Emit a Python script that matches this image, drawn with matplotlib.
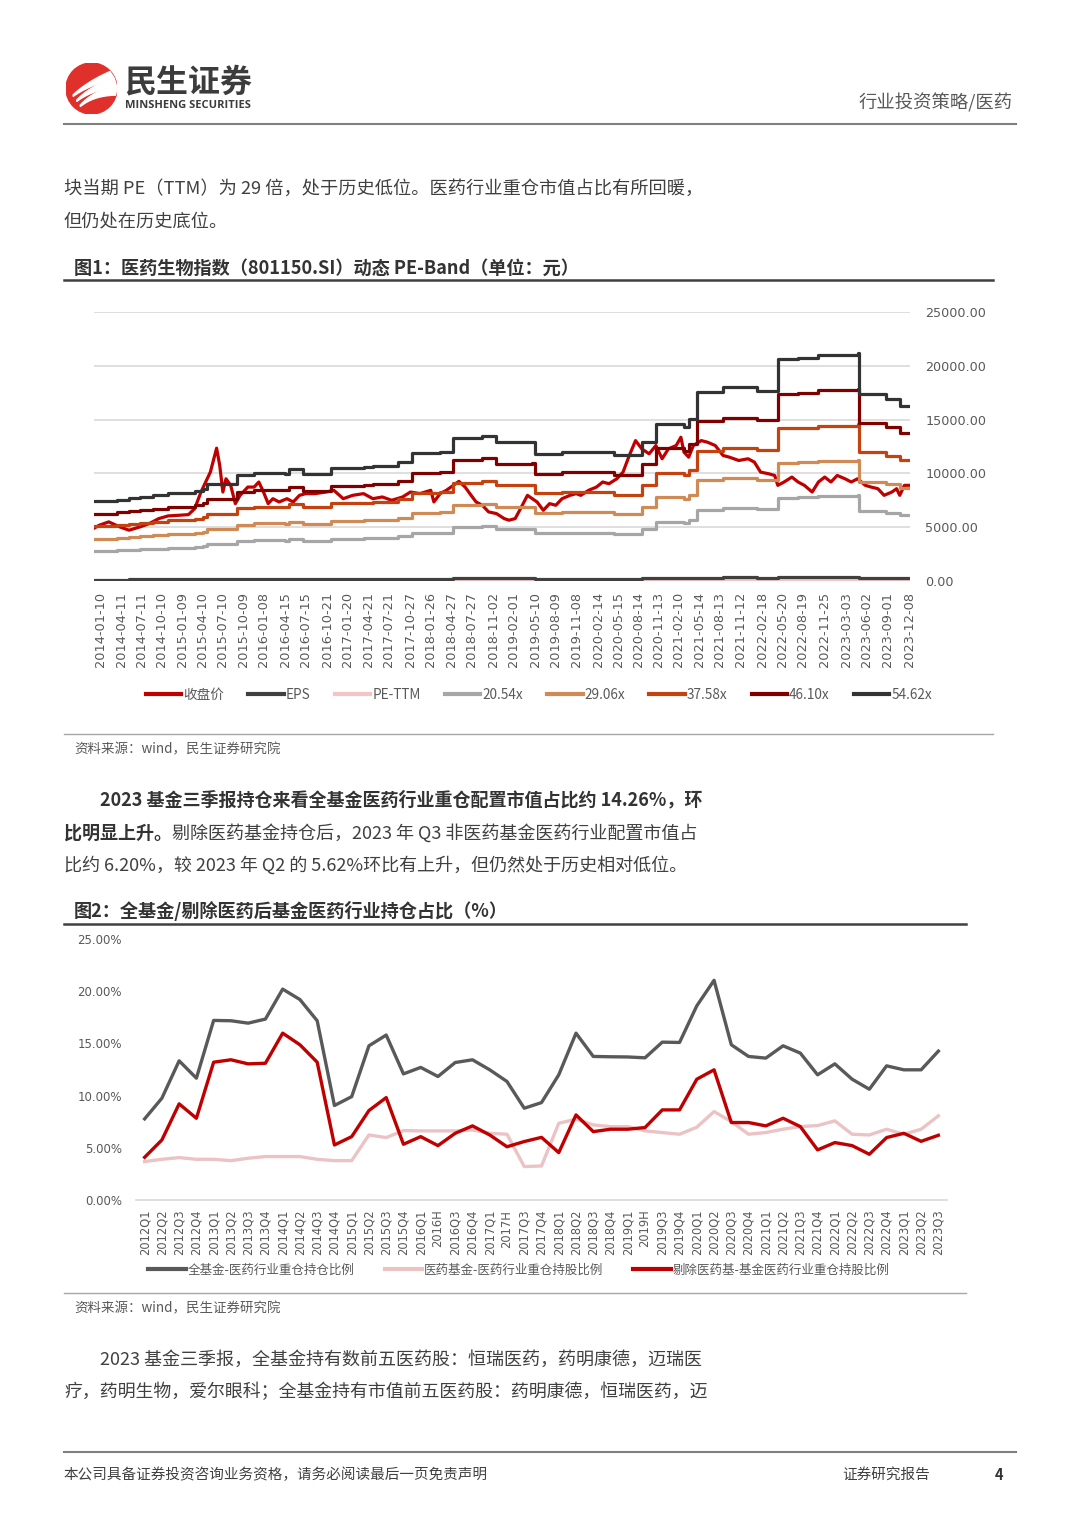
import numpy as np
import pandas as pd
import matplotlib
matplotlib.use("Agg")
import matplotlib.pyplot as plt
from matplotlib import lines, patches
from matplotlib.ticker import FormatStrFormatter

plt.rcParams['font.family'] = ['Noto Sans CJK SC', 'DejaVu Sans']

W, H = 1080, 1527

# ---------- chart 1: PE band data ----------
pe_ticks = ['2014-01-10', '2014-04-11', '2014-07-11', '2014-10-10', '2015-01-09', '2015-04-10',
            '2015-07-10', '2015-10-09', '2016-01-08', '2016-04-15', '2016-07-15', '2016-10-21',
            '2017-01-20', '2017-04-21', '2017-07-21', '2017-10-27', '2018-01-26', '2018-04-27',
            '2018-07-27', '2018-11-02', '2019-02-01', '2019-05-10', '2019-08-09', '2019-11-08',
            '2020-02-14', '2020-05-15', '2020-08-14', '2020-11-13', '2021-02-10', '2021-05-14',
            '2021-08-13', '2021-11-12', '2022-02-18', '2022-05-20', '2022-08-19', '2022-11-25',
            '2023-03-03', '2023-06-02', '2023-09-01', '2023-12-08']

eps_dates = ['2013-12-13', '2014-03-21', '2014-05-16', '2014-07-04', '2014-08-29', '2014-11-07',
             '2015-03-06', '2015-04-10', '2015-05-01', '2015-09-11', '2015-11-27', '2016-04-15',
             '2016-04-29', '2016-07-01', '2016-11-04', '2017-03-31', '2017-05-12', '2017-09-01',
             '2017-11-03', '2018-03-09', '2018-05-04', '2018-09-14', '2018-11-16', '2019-04-26',
             '2019-05-10', '2019-09-06', '2020-04-24', '2020-08-28', '2020-10-30', '2021-03-05',
             '2021-03-26', '2021-04-30', '2021-08-27', '2022-01-28', '2022-04-29', '2022-07-29',
             '2022-10-28', '2023-04-21', '2023-04-28', '2023-08-25', '2023-10-27', '2023-12-08']
eps_values = [135.5, 138.4, 141.0, 143.0, 145.7, 149.8, 153.1, 157.1, 165.5, 179.6, 184.2, 182.5,
              189.9, 182.2, 192.1, 193.9, 195.0, 202.3, 217.9, 219.2, 243.0, 247.5, 236.2, 237.3,
              216.4, 219.2, 213.7, 236.2, 267.3, 261.8, 275.7, 322.0, 329.5, 324.1, 377.5, 379.0,
              384.5, 387.6, 318.1, 309.6, 298.4, 298.4]

close_dates = ['2013-12-13', '2014-01-03', '2014-02-14', '2014-04-04', '2014-05-16', '2014-07-04',
               '2014-08-15', '2014-09-26', '2014-11-07', '2014-12-26', '2015-02-06', '2015-03-06',
               '2015-04-03', '2015-04-24', '2015-05-15', '2015-06-12', '2015-06-26', '2015-07-10',
               '2015-07-24', '2015-08-14', '2015-09-04', '2015-09-25', '2015-10-30', '2015-11-27',
               '2015-12-18', '2016-01-08', '2016-01-29', '2016-02-19', '2016-03-18', '2016-04-22',
               '2016-05-20', '2016-06-17', '2016-07-15', '2016-08-26', '2016-10-14', '2016-11-18',
               '2016-12-30', '2017-02-10', '2017-03-31', '2017-05-12', '2017-06-23', '2017-08-04',
               '2017-09-22', '2017-10-27', '2017-12-08', '2018-01-26', '2018-02-09', '2018-03-09',
               '2018-04-06', '2018-06-01', '2018-06-29', '2018-07-20', '2018-08-17', '2018-09-14',
               '2018-10-12', '2018-11-16', '2018-12-21', '2019-01-11', '2019-02-08', '2019-03-08',
               '2019-04-04', '2019-05-17', '2019-06-14', '2019-07-12', '2019-08-09', '2019-09-06',
               '2019-10-11', '2019-11-08', '2019-11-29', '2020-01-03', '2020-02-07', '2020-03-06',
               '2020-04-03', '2020-05-08', '2020-06-05', '2020-07-03', '2020-07-31', '2020-08-28',
               '2020-09-30', '2020-10-30', '2020-11-27', '2020-12-25', '2021-01-29', '2021-02-19',
               '2021-03-05', '2021-03-26', '2021-04-16', '2021-05-21', '2021-06-18', '2021-07-23',
               '2021-08-27', '2021-09-24', '2021-11-05', '2021-12-17', '2022-01-14', '2022-02-11',
               '2022-03-18', '2022-04-15', '2022-04-29', '2022-05-27', '2022-07-01', '2022-07-29',
               '2022-08-26', '2022-09-30', '2022-10-28', '2022-11-25', '2022-12-23', '2023-01-20',
               '2023-02-24', '2023-03-24', '2023-04-21', '2023-05-26', '2023-06-21', '2023-07-21',
               '2023-08-18', '2023-09-22', '2023-10-13', '2023-10-27', '2023-11-17', '2023-12-08']
close_values = [4940, 5185, 5494, 5030, 4722, 5030, 5340, 5800, 6050, 6110, 6170, 6730,
                8270, 9200, 10120, 12345, 10740, 8270, 9500, 8890, 7190, 7960, 8730, 8730,
                9200, 8270, 7190, 7650, 7345, 7650, 7345, 7960, 8120, 8120, 8270, 8430,
                7650, 7960, 8120, 7650, 7810, 7500, 7810, 8270, 8120, 8430, 7345, 8120,
                8430, 9260, 8730, 8120, 7345, 7040, 6420, 6265, 5800, 5650, 5800, 6880,
                7960, 7345, 6570, 7190, 7040, 7650, 7960, 8120, 7960, 8430, 8730, 9200,
                9040, 9500, 10120, 11665, 13050, 12280, 11820, 12590, 11360, 12280, 12590, 13360,
                11975, 11510, 12590, 13050, 12900, 12590, 11665, 11510, 11200, 11360, 11050, 10120,
                9970, 9810, 8890, 9200, 9660, 9200, 8890, 8270, 9200, 9660, 9200, 9810,
                9500, 9200, 9500, 8890, 8730, 8580, 7960, 8270, 8580, 7960, 8890, 8890]

band_multiples = [20.54, 29.06, 37.58, 46.10, 54.62]
band_colors = ['#A6A6A6', '#CF8A55', '#C4420F', '#800000', '#333333']

# ---------- chart 2: holding ratio data ----------
quarters = ['2012Q1', '2012Q2', '2012Q3', '2012Q4', '2013Q1', '2013Q2', '2013Q3', '2013Q4',
            '2014Q1', '2014Q2', '2014Q3', '2014Q4', '2015Q1', '2015Q2', '2015Q3', '2015Q4',
            '2016Q1', '2016H', '2016Q3', '2016Q4', '2017Q1', '2017H', '2017Q3', '2017Q4',
            '2018Q1', '2018Q2', '2018Q3', '2018Q4', '2019Q1', '2019H', '2019Q3', '2019Q4',
            '2020Q1', '2020Q2', '2020Q3', '2020Q4', '2021Q1', '2021Q2', '2021Q3', '2021Q4',
            '2022Q1', '2022Q2', '2022Q3', '2022Q4', '2023Q1', '2023Q2', '2023Q3']
all_fund = [7.77, 9.75, 13.33, 11.67, 17.2, 17.17, 16.94, 17.33, 20.2, 19.2, 17.17, 9.05,
            9.9, 14.77, 15.8, 12.08, 12.7, 11.83, 13.17, 13.43, 12.47, 11.35, 8.79, 9.33,
            11.99, 15.98, 13.75, 13.72, 13.7, 13.62, 15.12, 15.09, 18.6, 21.04, 14.87, 13.75,
            13.59, 14.77, 14.07, 11.99, 13.04, 11.57, 10.61, 12.85, 12.47, 12.47, 14.26]
pharma_fund = [3.68, 3.9, 4.06, 3.9, 3.9, 3.77, 4.0, 4.16, 4.16, 4.16, 3.9, 3.77,
               3.77, 6.23, 5.98, 6.65, 6.62, 6.62, 6.62, 6.71, 6.39, 6.3, 3.2, 3.26,
               7.35, 7.74, 7.19, 7.03, 7.03, 6.62, 6.46, 6.3, 6.97, 8.47, 7.51, 6.3,
               6.46, 6.78, 7.03, 7.13, 7.58, 6.3, 6.23, 6.78, 6.3, 6.78, 8.06]
ex_pharma = [4.09, 5.75, 9.21, 7.83, 13.2, 13.43, 13.04, 13.1, 15.98, 14.87, 13.2, 5.27,
             6.07, 8.57, 9.81, 5.34, 6.07, 5.21, 6.39, 7.1, 6.23, 5.1, 5.6, 6.0,
             4.54, 8.15, 6.55, 6.78, 6.78, 6.94, 8.63, 8.63, 11.57, 12.47, 7.42, 7.42,
             7.1, 7.83, 7.03, 4.8, 5.5, 5.21, 4.38, 5.98, 6.39, 5.62, 6.20]

BODY = 13.0


def fx(x):
    return x / W


def fy(y):
    return 1 - y / H


fig = plt.figure(figsize=(W / 100, H / 100), dpi=100)
fig.patch.set_facecolor('white')


def hline(y, x0, x1, color, lw):
    fig.add_artist(lines.Line2D([fx(x0), fx(x1)], [fy(y), fy(y)], color=color, lw=lw))


def txt(x, y, s, size, color='#404040', weight='normal', ha='left', **kw):
    return fig.text(fx(x), fy(y), s, fontsize=size, color=color, fontweight=weight,
                    ha=ha, va='center', **kw)


# ---------- page header ----------
lax = fig.add_axes([fx(66), fy(114), 51 / W, 51 / H])
lax.set_xlim(0, 1)
lax.set_ylim(0, 1)
lax.axis('off')
circ = patches.Circle((0.5, 0.5), 0.5, color='#E0302B')
lax.add_patch(circ)
t = np.linspace(0, 1, 50)
for k in range(3):
    p0 = np.array([0.14 + 0.07 * k, 0.36 - 0.1 * k])
    p1 = np.array([0.45 + 0.05 * k, 0.62 - 0.1 * k])
    p2 = np.array([1.0, 0.80 - 0.17 * k])
    cx = (1 - t) ** 2 * p0[0] + 2 * (1 - t) * t * p1[0] + t ** 2 * p2[0]
    cy = (1 - t) ** 2 * p0[1] + 2 * (1 - t) * t * p1[1] + t ** 2 * p2[1]
    wdt = 0.015 + 0.075 * t
    poly = np.vstack([np.column_stack([cx, cy + wdt]), np.column_stack([cx[::-1], (cy - wdt)[::-1]])])
    pp = patches.Polygon(poly, closed=True, color='white')
    lax.add_patch(pp)
    pp.set_clip_path(circ)

txt(124, 82, '民生证券', 23, color='#3C3C3C', weight='bold')
txt(125, 106, 'MINSHENG SECURITIES', 8.0, color='#3C3C3C', weight='bold', family=['Open Sans', 'DejaVu Sans'])
txt(1013, 103, '行业投资策略/医药', 13.2, color='#595959', ha='right')
hline(124, 64, 1016, '#7F7F7F', 1.5)

# ---------- paragraph 1 ----------
txt(64, 189, '块当期 PE（TTM）为 29 倍，处于历史低位。医药行业重仓市值占比有所回暖，', 13.15)
txt(64, 222, '但仍处在历史底位。', 13.15)

# ---------- figure 1 ----------
txt(74, 268, '图1：医药生物指数（801150.SI）动态 PE-Band（单位：元）', 13.1, color='#333333', weight='bold')
hline(280, 64, 993, '#404040', 1.8)

ax1 = fig.add_axes([fx(94), fy(581), 816 / W, 269 / H])
eps_x = pd.to_datetime(eps_dates)
eps_y = np.array(eps_values)
cl_x = pd.to_datetime(close_dates)
cl_y = np.array(close_values, dtype=float)
pe_ttm = cl_y / eps_y[np.searchsorted(eps_x, cl_x, side='right') - 1]

handles = []
h, = ax1.plot(cl_x, cl_y, color='#C00000', lw=2.3, label='收盘价', zorder=3)
handles.append(h)
h, = ax1.plot(eps_x, eps_y, color='#404040', lw=2.3, drawstyle='steps-post', label='EPS', zorder=4)
handles.append(h)
h, = ax1.plot(cl_x, pe_ttm, color='#F2C6C6', lw=2.3, label='PE-TTM', zorder=3.5)
handles.append(h)
for m, c in zip(band_multiples, band_colors):
    h, = ax1.plot(eps_x, eps_y * m, color=c, lw=2.3, drawstyle='steps-post',
                  label='%.2fx' % m, zorder=4)
    handles.append(h)

ax1.set_ylim(0, 25000)
ax1.set_xlim(pd.Timestamp('2013-12-10'), pd.Timestamp('2023-12-12'))
ax1.set_yticks(np.arange(0, 25001, 5000))
ax1.yaxis.set_major_formatter(FormatStrFormatter('%.2f'))
ax1.yaxis.tick_right()
ax1.set_xticks(pd.to_datetime(pe_ticks))
ax1.set_xticklabels(pe_ticks, rotation=90, family='DejaVu Sans')
ax1.tick_params(axis='y', length=0, pad=11, labelsize=9.2, labelcolor='#595959')
ax1.tick_params(axis='x', length=0, pad=8, labelsize=9.3, labelcolor='#595959')
for lab in ax1.get_yticklabels():
    lab.set_family('DejaVu Sans')
ax1.grid(axis='y', color='#D9D9D9', lw=1.2)
ax1.set_axisbelow(True)
for s in ax1.spines.values():
    s.set_visible(False)

leg1 = fig.legend(handles, [hh.get_label() for hh in handles], ncol=8, loc='center',
                  bbox_to_anchor=(fx(539), fy(695)), frameon=False, fontsize=9.8,
                  labelcolor='#595959', handlelength=2.6, handletextpad=0.15, columnspacing=1.78)
for lh in leg1.get_lines():
    lh.set_linewidth(3.0)

hline(734, 64, 993, '#A6A6A6', 1.0)
txt(74, 749, '资料来源：wind，民生证券研究院', 9.7, color='#595959')

# ---------- paragraph 2 ----------
txt(100, 800, '2023 基金三季报持仓来看全基金医药行业重仓配置市值占比约 14.26%，环', BODY,
    color='#333333', weight='bold')
b = txt(64, 833, '比明显上升。', BODY, color='#333333', weight='bold')
r = fig.canvas.get_renderer()
bx = b.get_window_extent(r).x1
fig.text(bx / W, fy(833), '剔除医药基金持仓后，2023 年 Q3 非医药基金医药行业配置市值占', fontsize=BODY,
         color='#404040', ha='left', va='center')
txt(64, 865, '比约 6.20%，较 2023 年 Q2 的 5.62%环比有上升，但仍然处于历史相对低位。', BODY)

# ---------- figure 2 ----------
txt(74, 911, '图2：全基金/剔除医药后基金医药行业持仓占比（%）', 13.1, color='#333333', weight='bold')
hline(924, 64, 966, '#404040', 1.8)

ax2 = fig.add_axes([fx(136), fy(1200), 811 / W, 261 / H])
xi = np.arange(len(quarters))
h1, = ax2.plot(xi, all_fund, color='#595959', lw=2.4, label='全基金-医药行业重仓持仓比例')
h2, = ax2.plot(xi, pharma_fund, color='#ECC3C5', lw=2.4, label='医药基金-医药行业重仓持股比例')
h3, = ax2.plot(xi, ex_pharma, color='#C00000', lw=2.4, label='剔除医药基-基金医药行业重仓持股比例')
ax2.set_xlim(-0.5, len(quarters) - 0.5)
ax2.set_ylim(0, 25)
ax2.set_yticks(np.arange(0, 25.1, 5))
ax2.yaxis.set_major_formatter(FormatStrFormatter('%.2f%%'))
ax2.set_xticks(xi)
ax2.set_xticklabels(quarters, rotation=90, family='DejaVu Sans')
ax2.tick_params(axis='y', length=0, pad=10, labelsize=8.5, labelcolor='#595959')
ax2.tick_params(axis='x', length=0, pad=7, labelsize=8.3, labelcolor='#595959')
for lab in ax2.get_yticklabels():
    lab.set_family('DejaVu Sans')
for s in ax2.spines.values():
    s.set_visible(False)
ax2.spines['bottom'].set_visible(True)
ax2.spines['bottom'].set_color('#D9D9D9')
ax2.spines['bottom'].set_linewidth(1.2)

leg2 = fig.legend([h1, h2, h3], [h1.get_label(), h2.get_label(), h3.get_label()], ncol=3, loc='center',
                  bbox_to_anchor=(fx(519), fy(1270)), frameon=False, fontsize=9.0,
                  labelcolor='#595959', handlelength=3.0, handletextpad=0.15, columnspacing=2.4)
for lh in leg2.get_lines():
    lh.set_linewidth(3.0)

hline(1293, 64, 966, '#A6A6A6', 1.0)
txt(74, 1308, '资料来源：wind，民生证券研究院', 9.7, color='#595959')

# ---------- paragraph 3 ----------
txt(100, 1360, '2023 基金三季报，全基金持有数前五医药股：恒瑞医药，药明康德，迈瑞医', BODY)
txt(64, 1392, '疗，药明生物，爱尔眼科；全基金持有市值前五医药股：药明康德，恒瑞医药，迈', 12.9)

# ---------- footer ----------
hline(1452, 64, 1016, '#7F7F7F', 1.5)
txt(64, 1475, '本公司具备证券投资咨询业务资格，请务必阅读最后一页免责声明', 10.5, color='#404040')
txt(842, 1475, '证券研究报告', 10.5, color='#404040')
txt(1003, 1475, '4', 10.5, color='#333333', weight='bold', ha='right')

fig.savefig('out.png', dpi=100, facecolor='white')
